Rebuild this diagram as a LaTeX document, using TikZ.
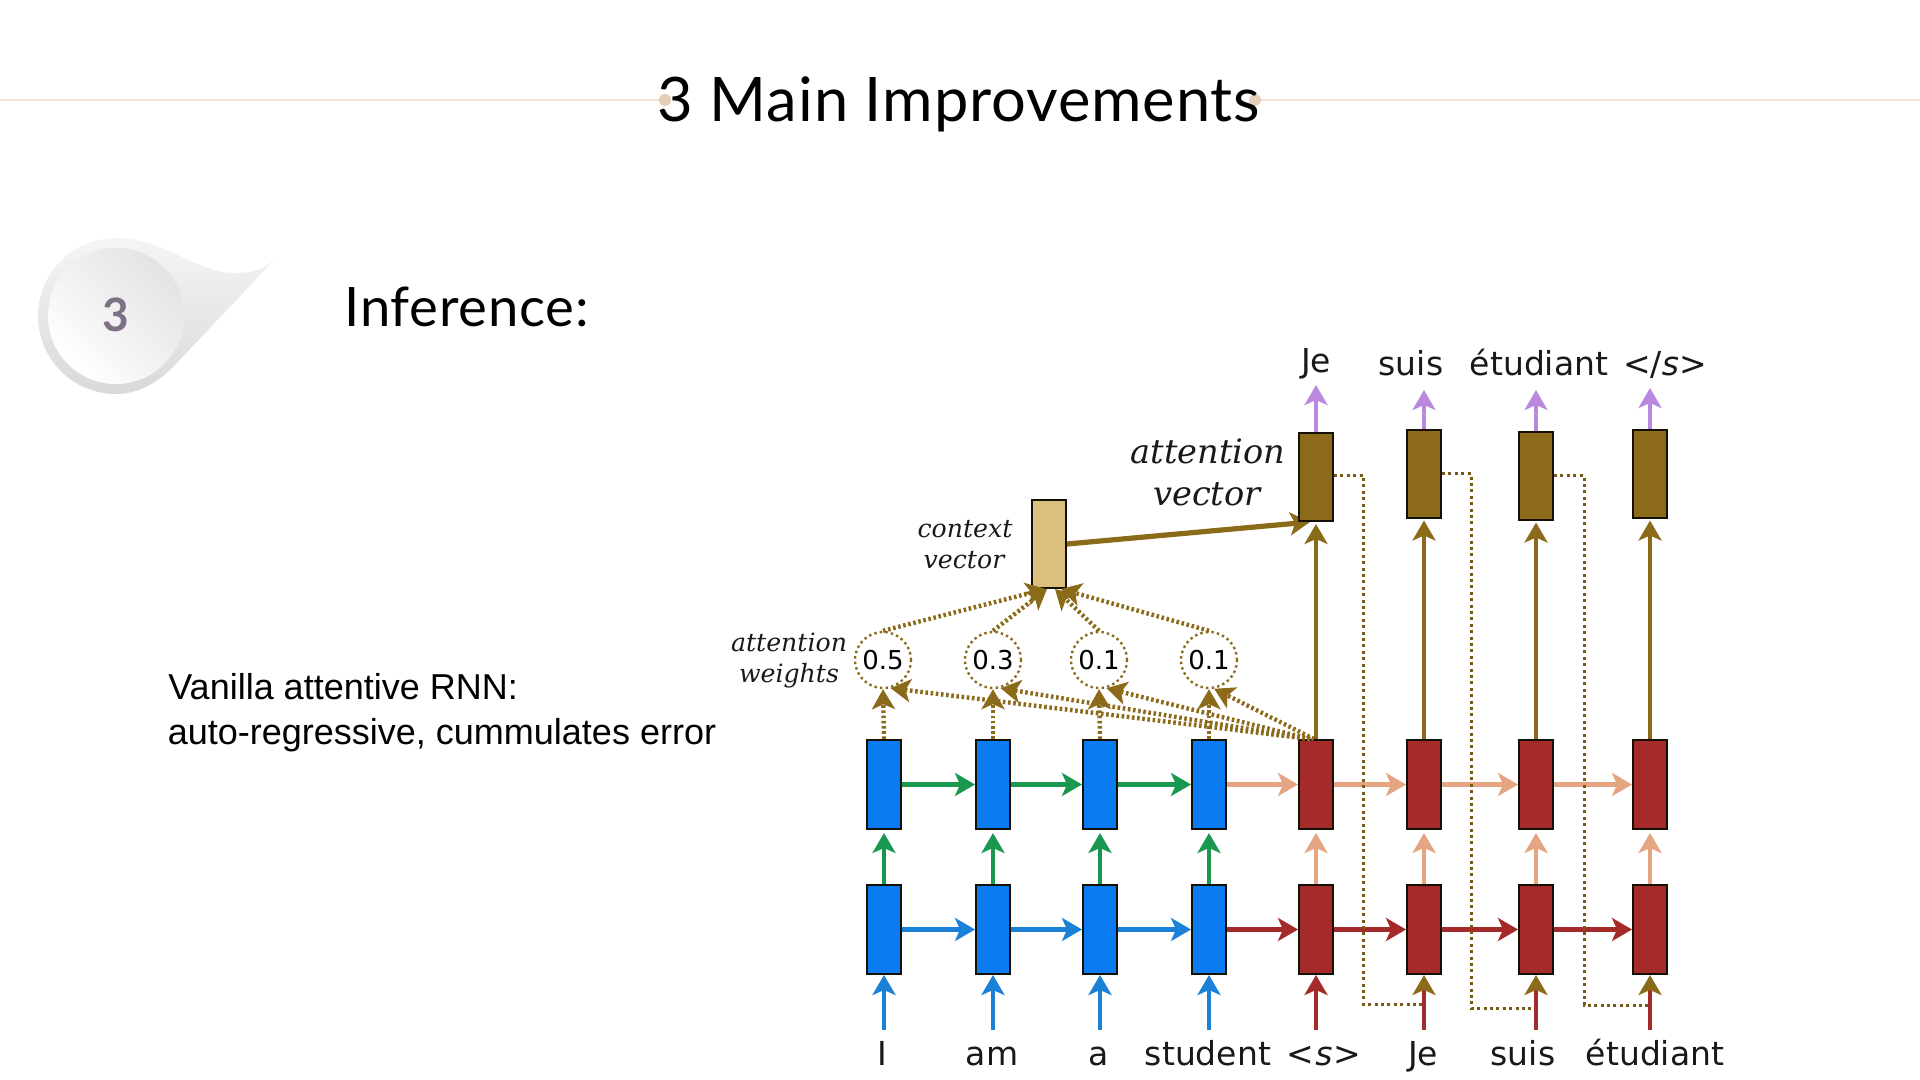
\documentclass[tikz,border=0pt]{standalone}
\usepackage{fontspec}
\usetikzlibrary{arrows.meta,backgrounds,calc}
\setmainfont{Lato}
\newfontfamily\fdv{DejaVu Sans}
\newfontfamily\fdvs{DejaVu Serif}
\newfontfamily\flib{Liberation Sans}
\definecolor{cblue}{HTML}{0A7BF0}
\definecolor{cblueln}{HTML}{1A80D8}
\definecolor{cgreen}{HTML}{1A9850}
\definecolor{cpeach}{HTML}{E5A583}
\definecolor{cred}{HTML}{A52A2A}
\definecolor{cbrown}{HTML}{8B6A1A}
\definecolor{ctan}{HTML}{DCBF7C}
\definecolor{cpurple}{HTML}{BB88E0}
\definecolor{crule}{HTML}{F0E4D8}
\definecolor{cdot}{HTML}{E6CDB8}
\definecolor{cbub}{HTML}{7F7185}
\tikzset{
  nnbox/.style={draw=black!85!cbrown,line width=1pt,minimum width=17pt,minimum height=44.5pt,inner sep=0pt},
  conn/.style={line width=2.4pt,-{Stealth[length=10pt,width=11.5pt,inset=2.5pt]}},
  thickdot/.style={line width=2.2pt,dash pattern=on 1.3pt off 1.3pt,color=cbrown,-{Stealth[length=10pt,width=11.5pt,inset=2.5pt]}},
  thindot/.style={line width=1.5pt,dash pattern=on 1.5pt off 1.7pt,color=cbrown!85!black},
  wcircle/.style={circle,draw=cbrown,line width=1.2pt,dash pattern=on 1.2pt off 1.6pt,minimum size=28pt,inner sep=0pt,text=black,font=\fdv\fontsize{13}{15}\selectfont},
  word/.style={anchor=base,inner sep=0pt,text=black!90,font=\fdv\fontsize{16.5}{20}\selectfont},
  serlab/.style={anchor=base,inner sep=0pt,text=black!90},
}
\begin{document}
\begin{tikzpicture}[x=0.5pt,y=-0.5pt]
\useasboundingbox (0,0) rectangle (1920,1080);
% header rule
\coordinate (ruleL) at (0,100);
\coordinate (ruleR) at (1920,100);
\node[circle,fill=cdot,inner sep=0pt,minimum size=6pt] (dotL) at (665,100) {};
\node[circle,fill=cdot,inner sep=0pt,minimum size=6pt] (dotR) at (1255,100) {};
\draw[crule,line width=1pt] (ruleL) -- (dotL);
\draw[crule,line width=1pt] (dotR) -- (ruleR);
\node[anchor=base,inner sep=0pt,font=\fontsize{30.7}{36}\selectfont\addfontfeature{LetterSpace=1.5},text=black] (title) at (959,122) {3 Main Improvements};
% bubble
\path[top color=black!4,bottom color=black!15] (116,238) .. controls (165,238) and (195,273) .. (235,273)
  .. controls (255,273) and (268,267) .. (277,257) -- (172,368)
  .. controls (155,385) and (135,394) .. (116,394)
  .. controls (73,394) and (38,359) .. (38,316)
  .. controls (38,273) and (73,238) .. (116,238) -- cycle;
\node[circle,minimum size=68pt,inner sep=0pt,left color=white,right color=black!11,shading angle=135] (bub) at (116,316) {};
\node[anchor=center,inner sep=0pt,text=cbub,font=\bfseries\fontsize{23}{28}\selectfont] (bubn) at (116,315) {3};
\node[anchor=base west,inner sep=0pt,text=black,font=\fontsize{27.2}{32}\selectfont\addfontfeature{LetterSpace=1.5}] (inf) at (344,327) {Inference:};
\node[anchor=base west,inner sep=0pt,text=black,font=\flib\fontsize{18}{21}\selectfont] (van1) at (168,699.5) {Vanilla attentive RNN:};
\node[anchor=base west,inner sep=0pt,text=black,font=\flib\fontsize{18}{21}\selectfont] (van2) at (167.5,744) {auto-regressive, cummulates error};
% boxes
\foreach \i/\x in {1/884,2/993,3/1100,4/1209}{
  \node[nnbox,fill=cblue] (u\i) at (\x,784.5) {};
  \node[nnbox,fill=cblue] (l\i) at (\x,929.5) {};
}
\foreach \i/\x in {5/1316,6/1424,7/1536,8/1650}{
  \node[nnbox,fill=cred] (u\i) at (\x,784.5) {};
  \node[nnbox,fill=cred] (l\i) at (\x,929.5) {};
}
\node[nnbox,fill=cbrown,minimum height=44pt] (a5) at (1316,477) {};
\node[nnbox,fill=cbrown,minimum height=44pt] (a6) at (1424,473.5) {};
\node[nnbox,fill=cbrown,minimum height=44pt] (a7) at (1536,475.5) {};
\node[nnbox,fill=cbrown,minimum height=44pt] (a8) at (1650,473.5) {};
\node[nnbox,fill=ctan,minimum height=44pt] (ctx) at (1049,544) {};
% context to attention
\begin{scope}[on background layer]
\draw[conn,cbrown,line width=2.6pt] (ctx.east) -- ([xshift=6pt]a5.south west);
\end{scope}
% weights
\node[wcircle] (c1) at (883,660) {0.5};
\node[wcircle] (c2) at (993,660) {0.3};
\node[wcircle] (c3) at (1099,660) {0.1};
\node[wcircle] (c4) at (1209,660) {0.1};
% horizontal arrows
\draw[conn,cgreen] (u1.east) -- (u2.west);
\draw[conn,cgreen] (u2.east) -- (u3.west);
\draw[conn,cgreen] (u3.east) -- (u4.west);
\draw[conn,cpeach] (u4.east) -- (u5.west);
\draw[conn,cpeach] (u5.east) -- (u6.west);
\draw[conn,cpeach] (u6.east) -- (u7.west);
\draw[conn,cpeach] (u7.east) -- (u8.west);
\draw[conn,cblueln] (l1.east) -- (l2.west);
\draw[conn,cblueln] (l2.east) -- (l3.west);
\draw[conn,cblueln] (l3.east) -- (l4.west);
\draw[conn,cred] (l4.east) -- (l5.west);
\draw[conn,cred] (l5.east) -- (l6.west);
\draw[conn,cred] (l6.east) -- (l7.west);
\draw[conn,cred] (l7.east) -- (l8.west);
% vertical
\foreach \i in {1,2,3,4}{\draw[conn,cgreen,shorten >=1.5pt] (l\i.north) -- (u\i.south);}
\foreach \i in {5,6,7,8}{\draw[conn,cpeach,shorten >=1.5pt] (l\i.north) -- (u\i.south);}
\foreach \i in {5,6,7,8}{\draw[conn,cbrown,shorten >=1pt] (u\i.north) -- (a\i.south);}
% top outputs
\coordinate (t5) at (1316,385);
\coordinate (t6) at (1424,390);
\coordinate (t7) at (1536,390);
\coordinate (t8) at (1650,388);
\foreach \i in {5,6,7,8}{\draw[conn,cpurple] (a\i.north) -- (t\i);}
% inputs
\foreach \i/\x in {1/884,2/993,3/1100,4/1209}{
  \coordinate (b\i) at (\x,1030);
  \draw[conn,cblueln] (b\i) -- (l\i.south);
}
\coordinate (b5) at (1316,1030);
\draw[conn,cred] (b5) -- (l5.south);
\foreach \i/\x in {6/1424,7/1536,8/1650}{
  \coordinate (b\i) at (\x,1030);
  \draw[line width=2.4pt,cred,-{Stealth[length=10pt,width=11.5pt,inset=2.5pt,color=cbrown]}] (b\i) -- (l\i.south);
}
% feedback
\coordinate (f5) at (1363,1004);
\coordinate (f6) at (1471,1008);
\coordinate (f7) at (1584,1005);
\draw[thindot] ([yshift=1pt]a5.east) -| (f5) -- (f5 -| l6.south);
\draw[thindot] (a6.east) -| (f6) -- (f6 -| l7.south);
\draw[thindot] (a7.east) -| (f7) -- (f7 -| l8.south);
% attention dotted
\draw[thickdot] (c1.north) -- ([xshift=-1.5pt]ctx.south);
\draw[thickdot] (c2.north) -- ([xshift=-1pt]ctx.south);
\draw[thickdot] (c3.north) -- ([xshift=3pt]ctx.south);
\draw[thickdot] (c4.north) -- ([xshift=6pt]ctx.south);
\foreach \i in {1,2,3,4}{\draw[thickdot] (u\i.north) -- (c\i.south);}
\draw[thickdot] ([xshift=-3pt]u5.north) -- (c1.285);
\draw[thickdot] ([xshift=-3pt]u5.north) -- (c2.285);
\draw[thickdot] ([xshift=-3pt]u5.north) -- (c3.285);
\draw[thickdot] ([xshift=-1pt]u5.north) -- (c4.280);
% words
\node[word] (w1) at (882,1065) {I};
\node[word] (w2) at (992,1065) {am};
\node[word] (w3) at (1099,1065) {a};
\node[word] (w4) at (1208,1065) {student};
\node[word] (w5) at (1324,1065) {<\kern0.6pt\textit{s}\kern0.6pt>};
\node[word] (w6) at (1423,1065) {Je};
\node[word] (w7) at (1523,1065) {suis};
\node[word] (w8) at (1655,1065) {étudiant};
\node[word] (o1) at (1316,372) {Je};
\node[word] (o2) at (1411,375) {suis};
\node[word] (o3) at (1539,375) {étudiant};
\node[word] (o4) at (1650,375) [xshift=7.5pt] {</\textit{s}>};
% side labels
\node[serlab,font=\fdvs\itshape\fontsize{16.8}{20}\selectfont] (at1) at (1208,463) {attention};
\node[serlab,font=\fdvs\itshape\fontsize{16.8}{20}\selectfont] (at2) at (1207,505) {vector};
\node[serlab,font=\fdvs\itshape\fontsize{12.6}{15}\selectfont] (cv1) at (965,537) {context};
\node[serlab,font=\fdvs\itshape\fontsize{12.6}{15}\selectfont] (cv2) at (964,568) {vector};
\node[serlab,font=\fdvs\itshape\fontsize{12.6}{15}\selectfont] (aw1) at (789,651) {attention};
\node[serlab,font=\fdvs\itshape\fontsize{12.6}{15}\selectfont] (aw2) at (789,682) {weights};
\end{tikzpicture}
\end{document}
